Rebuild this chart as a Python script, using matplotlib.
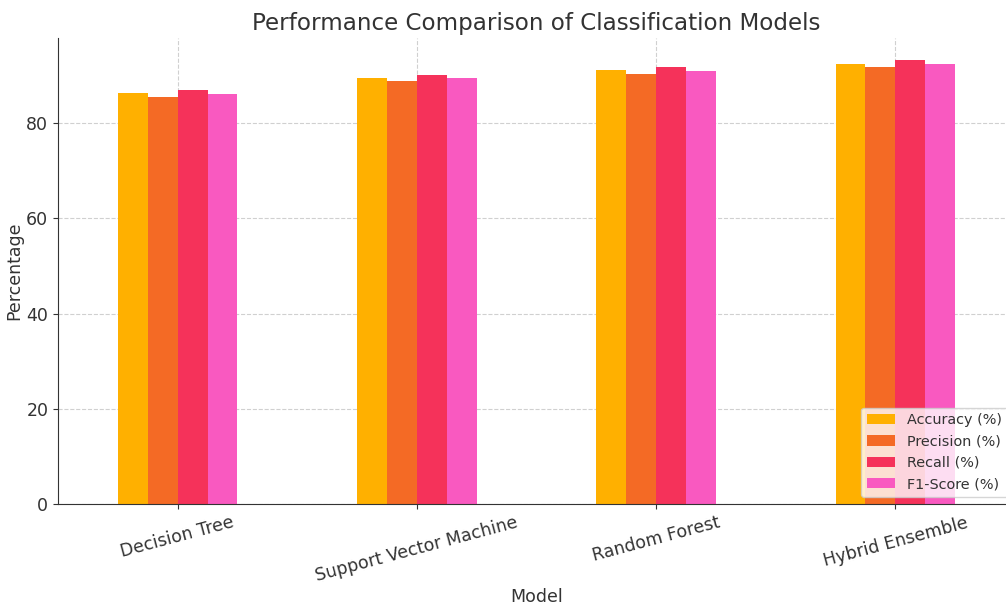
import matplotlib.pyplot as plt
import numpy as np

# Models and metric values
models = ["Decision Tree", "Support Vector Machine", "Random Forest", "Hybrid Ensemble"]
metrics = ["Accuracy (%)", "Precision (%)", "Recall (%)", "F1-Score (%)"]
accuracy = [86.3, 89.5, 91.1, 92.5]
precision = [85.6, 88.8, 90.3, 91.9]
recall = [87.0, 90.2, 91.8, 93.2]
f1_score = [86.2, 89.5, 91.0, 92.5]

colors = ["#FFB000", "#F46A25", "#F5325A", "#F959C0"]


def main():
    plt.rcParams["text.color"] = "#333333"
    plt.rcParams["axes.labelcolor"] = "#333333"
    plt.rcParams["xtick.color"] = "#333333"
    plt.rcParams["ytick.color"] = "#333333"

    fig = plt.figure(figsize=(10.06, 6.05), dpi=100)
    ax = fig.add_axes([58 / 1006, 101 / 605, 957 / 1006, 466 / 605])

    series = [accuracy, precision, recall, f1_score]
    x = np.arange(len(models))
    width = 0.125
    for i, (vals, name) in enumerate(zip(series, metrics)):
        offset = (i - 1.5) * width
        ax.bar(x + offset, vals, width, label=name, color=colors[i], zorder=2)

    ax.set_xlim(-0.5, len(models) - 0.5)
    ax.set_ylim(0, 97.9)
    ax.set_xticks(x)
    ax.set_xticklabels(models, rotation=15, ha="center", fontsize=12.5)
    ax.tick_params(axis="y", labelsize=12.5)

    ax.set_title("Performance Comparison of Classification Models", fontsize=16.6)
    ax.set_xlabel("Model", fontsize=12.5, labelpad=2)
    ax.set_ylabel("Percentage", fontsize=12.5, labelpad=2)

    ax.grid(True, linestyle="--", color="#d0d0d0", linewidth=0.8, zorder=0)
    ax.spines["top"].set_visible(False)
    ax.spines["right"].set_visible(False)
    ax.spines["left"].set_color("#333333")
    ax.spines["bottom"].set_color("#333333")

    ax.legend(loc="lower right", fontsize=10.4)

    fig.savefig("out.png", dpi=100)


if __name__ == "__main__":
    main()
